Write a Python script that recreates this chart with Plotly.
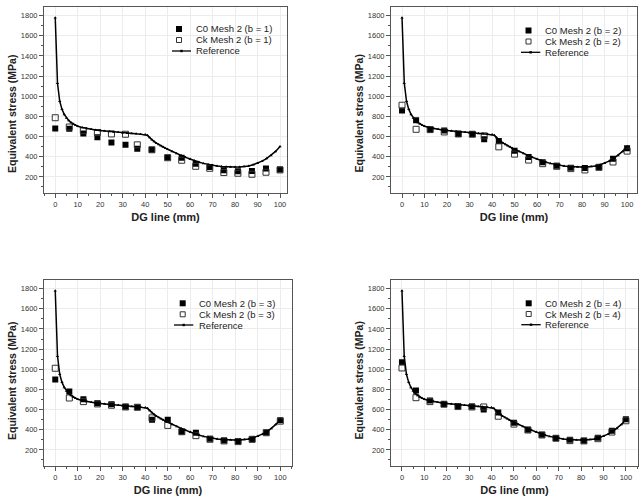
import plotly.graph_objects as go

# ---------------- data ----------------
pt_x = [0, 6.25, 12.5, 18.75, 25, 31.25, 36.5, 43, 50, 56.25, 62.5, 68.75, 75, 81.25, 87.5, 93.75, 100]

c0_b1 = [680, 678, 630, 593, 541, 518, 479, 469, 392, 390, 331, 298, 265, 256, 259, 282, 272]
ck_b1 = [787, 695, 659, 640, 626, 623, 518, 469, 390, 365, 305, 285, 243, 236, 226, 246, 269]

c0_b2 = [859, 761, 669, 660, 626, 626, 574, 557, 459, 397, 345, 310, 290, 287, 295, 380, 485]
ck_b2 = [911, 672, 669, 646, 626, 623, 607, 498, 426, 367, 331, 305, 282, 269, 295, 348, 456]

c0_b3 = [898, 780, 702, 662, 652, 628, 623, 498, 498, 380, 370, 310, 292, 285, 305, 372, 495]
ck_b3 = [1010, 715, 679, 656, 643, 626, 623, 518, 443, 380, 341, 305, 289, 282, 305, 370, 485]

c0_b4 = [1069, 790, 689, 656, 636, 630, 600, 570, 470, 400, 350, 318, 300, 290, 320, 390, 505]
ck_b4 = [1013, 718, 679, 653, 630, 626, 626, 534, 456, 397, 348, 315, 292, 289, 311, 377, 489]

ref_x = [0, 1, 2, 3, 4, 5, 6, 7, 8, 9, 10, 12, 14, 16, 18, 20, 22, 24, 26, 28, 30, 32, 34, 36, 38, 40,
         41, 42, 43, 44, 45, 46, 47, 48, 49, 50, 52, 54, 56, 58, 60, 62, 64, 66, 68, 70, 72, 74, 76, 78,
         80, 82, 84, 86, 88, 90, 92, 94, 96, 98, 100]
ref_y = [1780, 1130, 950, 870, 820, 785, 760, 740, 725, 712, 702, 690, 680, 672, 665, 660, 655, 650, 646, 642,
         638, 634, 630, 627, 624, 620, 612, 590, 568, 550, 535, 521, 508, 496, 485, 474, 452, 432, 412, 394,
         377, 360, 346, 334, 324, 316, 309, 304, 300, 298, 297, 298, 302, 309, 320, 336, 356, 382, 413, 453, 502]

b_values = [1, 2, 3, 4]
c0_all = [c0_b1, c0_b2, c0_b3, c0_b4]
ck_all = [ck_b1, ck_b2, ck_b3, ck_b4]

x_ticks = [0, 10, 20, 30, 40, 50, 60, 70, 80, 90, 100]
y_ticks = [200, 400, 600, 800, 1000, 1200, 1400, 1600, 1800]

x_title = "DG line (mm)"
y_title = "Equivalent stress (MPa)"

# ---------------- layout geometry (pixels) ----------------
W, H = 644, 499
panels = [
    dict(l=44, r=287, t=6.6, b=193, xr=[-5, 103.1], ytx=12, yty=114,
         leg=dict(sq=179, l0=172, l1=191, tx=194, rows=(29, 40, 51))),
    dict(l=391, r=637, t=6.6, b=193, xr=[-4.9, 104.4], ytx=358.5, yty=114,
         leg=dict(sq=528.5, l0=521, l1=540.3, tx=542.7, rows=(30.5, 41.5, 52.3))),
    dict(l=44, r=292, t=279.6, b=466, xr=[-5, 105.2], ytx=12, yty=381,
         leg=dict(sq=182.7, l0=174, l1=193.3, tx=196.7, rows=(303.3, 314.3, 325))),
    dict(l=391, r=638, t=279.6, b=466, xr=[-4.9, 105.4], ytx=358.5, yty=381,
         leg=dict(sq=528.7, l0=521.3, l1=540.7, tx=542.7, rows=(303.3, 314, 324.7))),
]

FONT = "Arial, Liberation Sans, sans-serif"
fig = go.Figure()
shapes = []
annotations = []


def px(x):
    return x / W


def py(y):
    return 1 - y / H


for i, p in enumerate(panels):
    n = "" if i == 0 else str(i + 1)
    b = b_values[i]
    names = [f"C0 Mesh 2 (b = {b})", f"Ck Mesh 2 (b = {b})", "Reference"]
    fig.add_trace(go.Scatter(
        x=pt_x, y=c0_all[i], mode="markers", name=names[0],
        marker=dict(symbol="square", size=6, color="black", line=dict(width=0)),
        xaxis="x" + n, yaxis="y" + n))
    fig.add_trace(go.Scatter(
        x=pt_x, y=ck_all[i], mode="markers", name=names[1],
        marker=dict(symbol="square-open", size=6, color="#333333", line=dict(width=1)),
        xaxis="x" + n, yaxis="y" + n))
    fig.add_trace(go.Scatter(
        x=ref_x, y=ref_y, mode="lines+markers", name=names[2],
        line=dict(color="black", width=1.5),
        marker=dict(symbol="triangle-up", size=3, color="black"),
        xaxis="x" + n, yaxis="y" + n))

    xd = [px(p["l"]), px(p["r"])]
    yd = [py(p["b"]), py(p["t"])]
    axcommon = dict(showline=True, mirror=True, linecolor="#555555", linewidth=1,
                    ticks="outside", ticklen=4, tickcolor="#555555", tickwidth=1,
                    showgrid=True, gridcolor="#ececec", gridwidth=1, zeroline=False,
                    tickfont=dict(family=FONT, size=7.5, color="#333333"),
                    automargin=False)
    fig.update_layout({
        "xaxis" + n: dict(domain=xd, anchor="y" + n, range=p["xr"], tickvals=x_ticks,
                          minor=dict(ticks="outside", ticklen=2, dtick=5, tickcolor="#555555", showgrid=False),
                          title=dict(text=f"<b>{x_title}</b>", standoff=5,
                                     font=dict(family=FONT, size=11, color="#222222")),
                          **axcommon),
        "yaxis" + n: dict(domain=yd, anchor="x" + n, range=[40, 1890], tickvals=y_ticks,
                          minor=dict(ticks="outside", ticklen=2, dtick=100, tickcolor="#555555", showgrid=False),
                          **axcommon),
    })
    # y title
    annotations.append(dict(text=f"<b>{y_title}</b>", x=px(p["ytx"]), y=py(p["yty"]),
                            xref="paper", yref="paper", textangle=-90, showarrow=False,
                            xanchor="center", yanchor="middle",
                            font=dict(family=FONT, size=10.5, color="#222222")))
    # legend (drawn manually)
    lg = p["leg"]
    r0, r1, r2 = lg["rows"]
    hs = 3
    shapes.append(dict(type="rect", xref="paper", yref="paper",
                       x0=px(lg["sq"] - hs), x1=px(lg["sq"] + hs), y0=py(r0 + hs), y1=py(r0 - hs),
                       fillcolor="black", line=dict(width=0)))
    shapes.append(dict(type="rect", xref="paper", yref="paper",
                       x0=px(lg["sq"] - hs + 0.5), x1=px(lg["sq"] + hs - 0.5),
                       y0=py(r1 + hs - 0.5), y1=py(r1 - hs + 0.5),
                       fillcolor="white", line=dict(width=1, color="#333333")))
    shapes.append(dict(type="line", xref="paper", yref="paper",
                       x0=px(lg["l0"]), x1=px(lg["l1"]), y0=py(r2), y1=py(r2),
                       line=dict(width=1.3, color="black")))
    cx = (lg["l0"] + lg["l1"]) / 2
    shapes.append(dict(type="rect", xref="paper", yref="paper",
                       x0=px(cx - 1.2), x1=px(cx + 1.2), y0=py(r2 + 1.2), y1=py(r2 - 1.2),
                       fillcolor="black", line=dict(width=0)))
    for nm, ry in zip(names, (r0, r1, r2)):
        annotations.append(dict(text=nm, x=px(lg["tx"]), y=py(ry), xref="paper", yref="paper",
                                showarrow=False, xanchor="left", yanchor="middle",
                                font=dict(family=FONT, size=9.5, color="#222222")))

fig.update_layout(width=W, height=H, margin=dict(l=0, r=0, t=0, b=0),
                  paper_bgcolor="white", plot_bgcolor="white", showlegend=False,
                  shapes=shapes, annotations=annotations)

fig.write_html("out.html")
